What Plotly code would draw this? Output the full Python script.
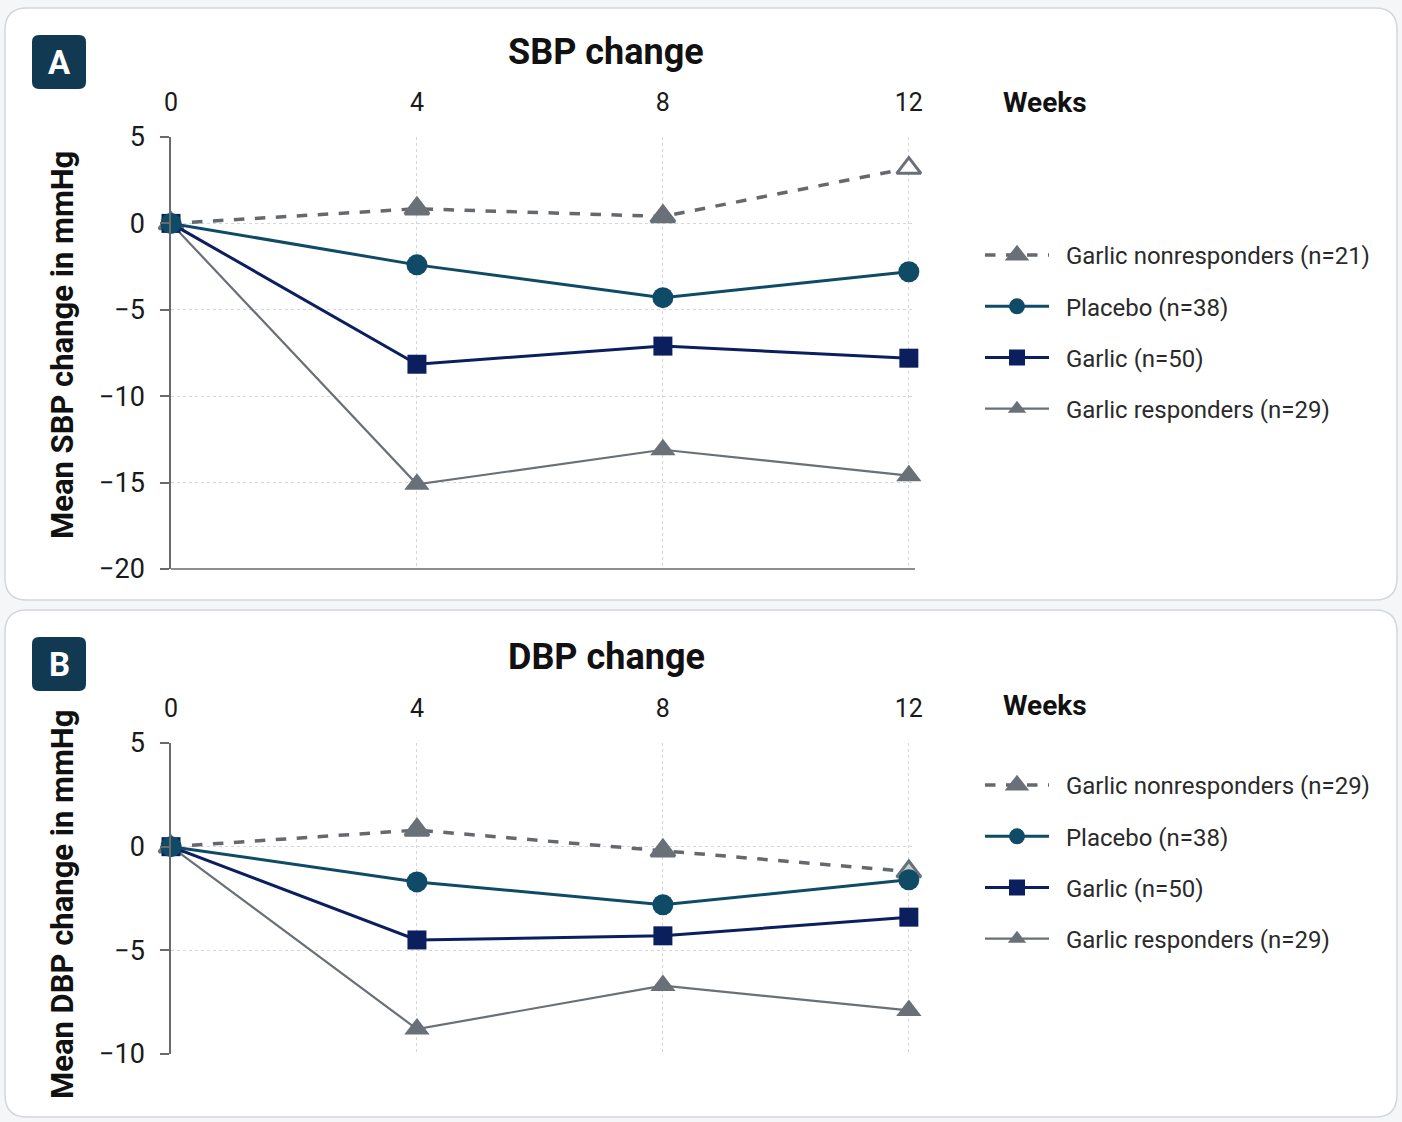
import plotly.graph_objects as go

W, H = 1402, 1122

weeks = [0, 4, 8, 12]
week_ticks = [0, 4, 8, 12]

# Panel A: SBP change (mmHg)
sbp_nonresp = [0, 0.85, 0.4, 3.2]
sbp_placebo = [0, -2.4, -4.3, -2.8]
sbp_garlic = [0, -8.15, -7.1, -7.8]
sbp_resp = [0, -15.1, -13.1, -14.6]

# Panel B: DBP change (mmHg)
dbp_nonresp = [0, 0.8, -0.2, -1.2]
dbp_placebo = [0, -1.7, -2.8, -1.6]
dbp_garlic = [0, -4.5, -4.3, -3.4]
dbp_resp = [0, -8.8, -6.7, -7.9]

labels_a = ["Garlic nonresponders (n=21)", "Placebo (n=38)", "Garlic (n=50)", "Garlic responders (n=29)"]
labels_b = ["Garlic nonresponders (n=29)", "Placebo (n=38)", "Garlic (n=50)", "Garlic responders (n=29)"]

sbp_ticks = [5, 0, -5, -10, -15, -20]
dbp_ticks = [5, 0, -5, -10]

C_PLACEBO = "#0f4a66"
C_GARLIC = "#0b1f5e"
C_TRI = "#6a7077"
C_DASH = "#65686d"
C_BADGE = "#113a52"
FONT = "Roboto"
PAD = "\u00a0\u00a0"

def px(x):
    return x / W

def py(y):
    return 1 - y / H

fig = go.Figure()

def add_panel(xa, ya, leg, nonresp, placebo, garlic, resp, labels, last_fill, tag):
    common = dict(x=weeks, xaxis=xa, yaxis=ya, legend=leg, mode="lines+markers", cliponaxis=False)
    fig.add_trace(go.Scatter(y=nonresp, name=PAD + labels[0], legendrank=1, legendgroup=tag + "1",
                             line=dict(color=C_DASH, width=3.5, dash="dash"),
                             marker=dict(symbol="triangle-up", size=21,
                                         color=[C_TRI, C_TRI, C_TRI, last_fill],
                                         line=dict(color=C_TRI, width=3)),
                             **common))
    fig.add_trace(go.Scatter(y=resp, name=PAD + labels[3], legendrank=4, legendgroup=tag + "4",
                             line=dict(color=C_TRI, width=2.2),
                             marker=dict(symbol="triangle-up", size=22, color=C_TRI),
                             **common))
    fig.add_trace(go.Scatter(y=garlic, name=PAD + labels[2], legendrank=3, legendgroup=tag + "3",
                             line=dict(color=C_GARLIC, width=3),
                             marker=dict(symbol="square", size=19, color=C_GARLIC),
                             **common))
    fig.add_trace(go.Scatter(y=placebo, name=PAD + labels[1], legendrank=2, legendgroup=tag + "2",
                             line=dict(color=C_PLACEBO, width=3),
                             marker=dict(symbol="circle", size=21, color=C_PLACEBO),
                             **common))

add_panel("x", "y", "legend", sbp_nonresp, sbp_placebo, sbp_garlic, sbp_resp, labels_a, "#ffffff", "a")
add_panel("x2", "y2", "legend2", dbp_nonresp, dbp_placebo, dbp_garlic, dbp_resp, labels_b, "#c9ccd0", "b")

xdom = [px(171), px(915)]
xcommon = dict(range=[0, 12.1], tickvals=week_ticks, side="top", showline=False,
               ticks="", showgrid=True, gridcolor="#d4d6d9", griddash="dot", gridwidth=1,
               zeroline=False, tickfont=dict(family=FONT, size=25, color="#1a1a1a"),
               ticklabelstandoff=20, domain=xdom, fixedrange=True, automargin=False)
ycommon = dict(showline=True, linecolor="#6a6a6a", linewidth=1.5, ticks="outside",
               ticklen=9, tickcolor="#6a6a6a", tickwidth=1.5, showgrid=True,
               gridcolor="#d4d6d9", griddash="dot", gridwidth=1, zeroline=False,
               tickfont=dict(family=FONT, size=27, color="#1a1a1a"),
               ticklabelstandoff=10, fixedrange=True, automargin=False)

fig.update_layout(
    xaxis=dict(anchor="y", **xcommon),
    yaxis=dict(anchor="x", range=[-20, 5], tickvals=sbp_ticks,
               domain=[py(569), py(137)], **ycommon),
    xaxis2=dict(anchor="y2", **xcommon),
    yaxis2=dict(anchor="x2", range=[-10, 5], tickvals=dbp_ticks,
                domain=[py(1054), py(743)], **ycommon),
)

leg_common = dict(font=dict(family=FONT, size=24, color="#2a2a2a"),
                  bgcolor="rgba(0,0,0,0)", xanchor="left", yanchor="top",
                  tracegroupgap=17, itemwidth=64, traceorder="grouped")
fig.update_layout(
    legend=dict(x=px(980), y=py(233), **leg_common),
    legend2=dict(x=px(980), y=py(763), **leg_common),
)

shapes = []

def rrect(x0, y0, x1, y1, r):
    return (f"M{px(x0+r)},{py(y0)} L{px(x1-r)},{py(y0)} "
            f"Q{px(x1)},{py(y0)} {px(x1)},{py(y0+r)} "
            f"L{px(x1)},{py(y1-r)} Q{px(x1)},{py(y1)} {px(x1-r)},{py(y1)} "
            f"L{px(x0+r)},{py(y1)} Q{px(x0)},{py(y1)} {px(x0)},{py(y1-r)} "
            f"L{px(x0)},{py(y0+r)} Q{px(x0)},{py(y0)} {px(x0+r)},{py(y0)} Z")

for (y0, y1) in [(8, 600), (610, 1117)]:
    shapes.append(dict(type="path", xref="paper", yref="paper", path=rrect(5, y0, 1397, y1, 22),
                       fillcolor="#ffffff", line=dict(color="#d3d6da", width=1.5), layer="below"))
for (y0, y1) in [(35, 89), (637, 691)]:
    shapes.append(dict(type="path", xref="paper", yref="paper", path=rrect(32, y0, 86, y1, 7),
                       fillcolor=C_BADGE, line=dict(width=0), layer="below"))
# solid baseline of panel A
shapes.append(dict(type="line", xref="x domain", yref="y domain", x0=0, x1=1, y0=0, y1=0,
                   line=dict(color="#6a6a6a", width=1.5)))
fig.update_layout(shapes=shapes)

annotations = []
for (txt, yc) in [("A", 62), ("B", 664)]:
    annotations.append(dict(text=f"<b>{txt}</b>", x=px(59), y=py(yc), xref="paper", yref="paper",
                            showarrow=False, font=dict(family=FONT, size=33, color="#ffffff"),
                            xanchor="center", yanchor="middle"))
for (txt, yc) in [("SBP change", 52), ("DBP change", 657)]:
    annotations.append(dict(text=f"<b>{txt}</b>", x=px(606), y=py(yc), xref="paper", yref="paper",
                            showarrow=False, font=dict(family=FONT, size=36, color="#111111"),
                            xanchor="center", yanchor="middle"))
for yc in [102, 705]:
    annotations.append(dict(text="<b>Weeks</b>", x=px(1001), y=py(yc), xref="paper", yref="paper",
                            showarrow=False, font=dict(family=FONT, size=28, color="#111111"),
                            xanchor="left", yanchor="middle"))
for (txt, yc) in [("Mean SBP change in mmHg", 345), ("Mean DBP change in mmHg", 905)]:
    annotations.append(dict(text=f"<b>{txt}</b>", x=px(62), y=py(yc), xref="paper", yref="paper",
                            showarrow=False, textangle=-90,
                            font=dict(family=FONT, size=31, color="#111111"),
                            xanchor="center", yanchor="middle"))
fig.update_layout(annotations=annotations)

fig.update_layout(width=W, height=H, margin=dict(l=0, r=0, t=0, b=0, pad=0, autoexpand=False),
                  paper_bgcolor="#f5f6f7", plot_bgcolor="rgba(0,0,0,0)",
                  showlegend=True, hovermode=False)

fig.write_html("out.html", config={"displayModeBar": False},
               post_script="document.body.style.margin='0px';document.body.style.overflow='hidden';")
